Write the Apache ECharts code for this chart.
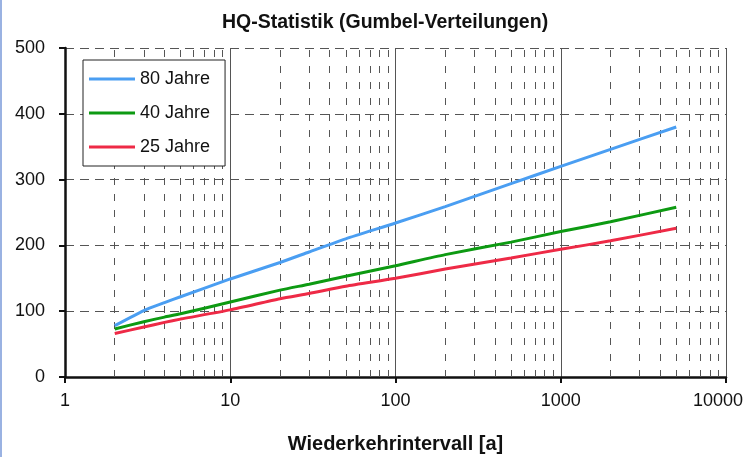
<!DOCTYPE html>
<html>
<head>
<meta charset="utf-8">
<script src="https://cdn.jsdelivr.net/npm/echarts@6/dist/echarts.min.js"></script>
<style>
  html, body { margin: 0; padding: 0; background: #fff; }
  #chart { width: 746px; height: 457px; }
</style>
</head>
<body>
<div id="chart"></div>
<script>
// Wiederkehrintervall T [a]
var years = [2, 3, 4, 5, 10, 20, 30, 50, 100, 200, 500, 1000, 2000, 5000];
var hq80 = [78, 101, 113, 122, 149, 174, 190, 210, 234, 259, 294, 320, 346, 380];
var hq40 = [73, 84, 91, 96, 114, 132, 141, 153, 169, 186, 205, 221, 236, 258];
var hq25 = [66, 76, 83, 88, 102, 119, 127, 138, 150, 164, 181, 194, 207, 226];
var seriesNames = ['80 Jahre', '40 Jahre', '25 Jahre'];
// dashed minor grid positions on the log axis
var minorLines = [2, 3, 4, 5, 6, 7, 8, 9,
                  20, 30, 40, 50, 60, 70, 80, 90,
                  200, 300, 400, 500, 600, 700, 800, 900,
                  2000, 3000, 4000, 5000, 6000, 7000, 8000, 9000];

function pairs(vals) {
    return years.map(function (t, i) { return [t, vals[i]]; });
}

var font = 'Liberation Sans, Arial, sans-serif';

var myChart = echarts.init(document.getElementById('chart'));

var option = {
    animation: false,
    backgroundColor: '#fff',
    title: {
        text: 'HQ-Statistik (Gumbel-Verteilungen)',
        left: 217,
        top: 8,
        textStyle: { fontFamily: font, fontSize: 19.5, fontWeight: 'bold', color: '#111' }
    },
    legend: {
        data: seriesNames,
        orient: 'vertical',
        left: 83,
        top: 60,
        z: 10,
        padding: [10, 15, 10, 6],
        itemGap: 16,
        itemWidth: 46,
        itemHeight: 3,
        icon: 'rect',
        backgroundColor: '#fff',
        borderColor: '#222',
        borderWidth: 1,
        textStyle: { fontFamily: font, fontSize: 18, color: '#111' }
    },
    graphic: [{
        type: 'rect',
        shape: { x: 0, y: 0, width: 2, height: 457 },
        style: { fill: '#9ab2e2' }
    }],
    grid: { left: 65, right: 20, top: 48, bottom: 80, outerBoundsMode: 'none' },
    xAxis: {
        type: 'log',
        logBase: 10,
        min: 1,
        max: 10000,
        name: 'Wiederkehrintervall [a]',
        nameLocation: 'middle',
        nameGap: 57,
        nameTextStyle: { fontFamily: font, fontSize: 20, fontWeight: 'bold', color: '#111' },
        axisLine: { onZero: false, lineStyle: { color: '#111', width: 2.5 } },
        axisTick: { length: 6, lineStyle: { color: '#111', width: 2 } },
        axisLabel: {
            margin: 15,
            fontFamily: font, fontSize: 18, color: '#111',
            formatter: function (v) {
                var s = String(Math.round(v));
                return Math.round(v) === 10000 ? '{last|' + s + '}' : s;
            },
            rich: {
                last: { fontFamily: font, fontSize: 18, color: '#111', padding: [0, 16, 0, 0] }
            }
        },
        splitLine: { show: true, lineStyle: { color: '#555', width: 1, type: 'solid' } }
    },
    yAxis: {
        type: 'value',
        min: 0,
        max: 500,
        interval: 100,
        axisLine: { show: true, lineStyle: { color: '#111', width: 2.5 } },
        axisTick: { show: true, length: 6, lineStyle: { color: '#111', width: 2 } },
        axisLabel: { margin: 20, fontFamily: font, fontSize: 18, color: '#111' },
        splitLine: { show: true, lineStyle: { color: '#555', width: 1, type: [9, 6] } }
    },
    series: [
        {
            name: 'grid',
            type: 'line',
            data: [],
            z: 1,
            silent: true,
            markLine: {
                z: 1,
                silent: true,
                symbol: 'none',
                label: { show: false },
                lineStyle: { color: '#555', width: 1, type: [7, 9] },
                data: minorLines.map(function (v) { return { xAxis: v }; })
            }
        },
        {
            name: seriesNames[0], type: 'line', z: 3,
            data: pairs(hq80), showSymbol: false, smooth: 0.2,
            itemStyle: { color: '#4a9ef2' },
            lineStyle: { color: '#4a9ef2', width: 3 }
        },
        {
            name: seriesNames[1], type: 'line', z: 3,
            data: pairs(hq40), showSymbol: false, smooth: 0.2,
            itemStyle: { color: '#0d9a12' },
            lineStyle: { color: '#0d9a12', width: 3 }
        },
        {
            name: seriesNames[2], type: 'line', z: 3,
            data: pairs(hq25), showSymbol: false, smooth: 0.2,
            itemStyle: { color: '#ee2a46' },
            lineStyle: { color: '#ee2a46', width: 3 }
        }
    ]
};
myChart.setOption(option);
</script>
</body>
</html>
